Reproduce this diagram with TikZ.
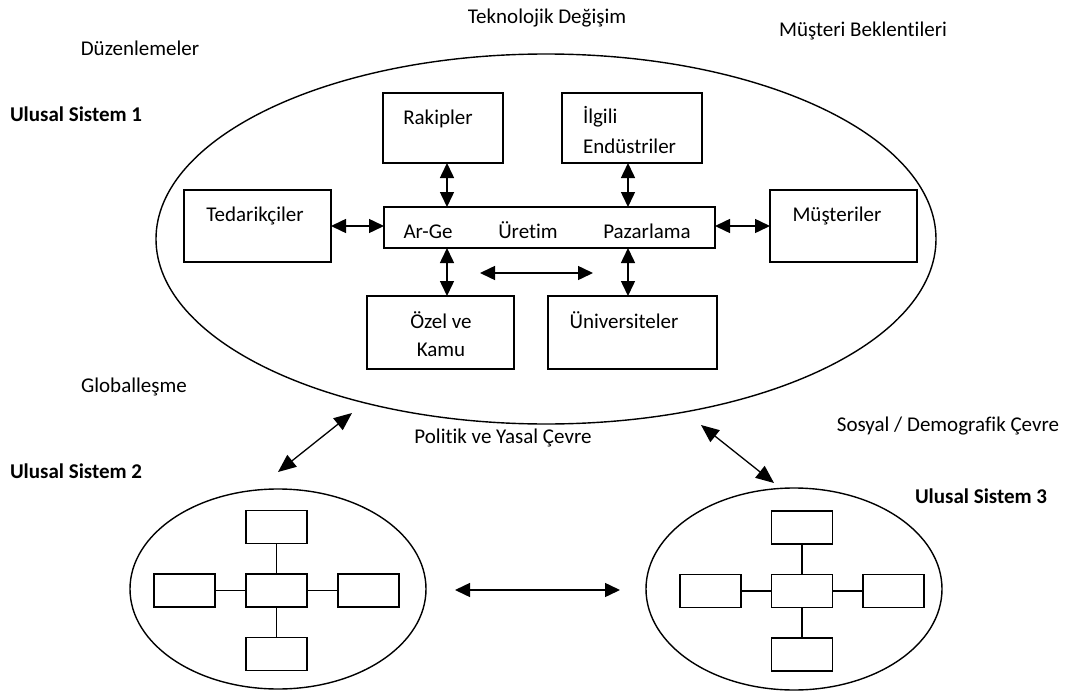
\documentclass[tikz,border=0pt]{standalone}
\usepackage{fontspec}
\setmainfont{Carlito}[RawFeature={-liga;-clig;-calt;-dlig}]
\usetikzlibrary{arrows.meta,shapes.geometric}
\begin{document}
\begin{tikzpicture}[x=1pt,y=-1pt,
  every node/.style={inner sep=0pt,outer sep=0pt},
  lbl/.style={font=\fontsize{21}{25}\selectfont,text height=13.5pt,text depth=0pt,anchor=center},
  ttl/.style={lbl,font=\fontsize{21}{25}\selectfont\bfseries,anchor=west},
  sysellipse/.style={draw,ellipse,line width=1.4pt},
  actor/.style={draw,rectangle,line width=1.6pt},
  mini/.style={draw,rectangle,line width=1.5pt,minimum width=61pt,minimum height=33pt},
  dbl/.style={{Triangle[length=15pt,width=14pt]}-{Triangle[length=15pt,width=14pt]},line width=1.5pt},
  wide/.style={{Triangle[length=18pt,width=15pt]}-{Triangle[length=18pt,width=15pt]},line width=1.3pt},
  link/.style={line width=1.5pt}
]
\useasboundingbox (0,0) rectangle (1085,693);

% national systems
\node[sysellipse,minimum width=780pt,minimum height=370pt] (s1) at (546,239) {};
\node[sysellipse,minimum width=296pt,minimum height=200pt] (s2) at (278,589) {};
\node[sysellipse,minimum width=296pt,minimum height=202pt] (s3) at (794,589) {};

% actors of system 1
\node[actor,minimum width=120pt,minimum height=70pt] (rak) at (443,128) {};
\node[actor,minimum width=140pt,minimum height=70pt] (ilg) at (632,128) {};
\node[actor,minimum width=147pt,minimum height=72pt] (ted) at (257.5,226) {};
\node[actor,minimum width=147pt,minimum height=72pt] (mus) at (843.5,226) {};
\node[actor,minimum width=331pt,minimum height=41pt] (core) at (549.5,227.5) {};
\node[actor,minimum width=147pt,minimum height=73pt] (ozel) at (440.5,332.5) {};
\node[actor,minimum width=169pt,minimum height=73pt] (uni) at (632.5,332.5) {};

% texts inside the boxes
\node[lbl] (t-rak) at (438,118) {Rakipler};
\node[lbl,anchor=west] (t-ilg1) at (583,117) {İlgili};
\node[lbl,anchor=west] (t-ilg2) at (583,147) {Endüstriler};
\node[lbl] (t-ted) at (255,215) {Tedarikçiler};
\node[lbl] (t-mus) at (837,215) {Müşteriler};
\node[lbl] (t-arge) at (428,232) {Ar-Ge};
\node[lbl] (t-uret) at (528,232) {Üretim};
\node[lbl] (t-paz) at (647,232) {Pazarlama};
\node[lbl] (t-oz1) at (441,322) {Özel ve};
\node[lbl] (t-oz2) at (441,350) {Kamu};
\node[lbl] (t-uni) at (624,322) {Üniversiteler};

% environment labels
\node[lbl] (e-tek) at (547,17) {Teknolojik Değişim};
\node[lbl] (e-mus) at (863,30) {Müşteri Beklentileri};
\node[lbl] (e-duz) at (140,49) {Düzenlemeler};
\node[lbl] (e-glo) at (134,386) {Globalleşme};
\node[lbl] (e-pol) at (503,437) {Politik ve Yasal Çevre};
\node[lbl] (e-sos) at (948,425) {Sosyal / Demografik Çevre};
\node[ttl] (n1) at (10,115) {Ulusal Sistem 1};
\node[ttl] (n2) at (10,472) {Ulusal Sistem 2};
\node[ttl] (n3) at (915,497) {Ulusal Sistem 3};

% links inside system 1
\draw[dbl] ([xshift=4pt]rak.south) -- ([xshift=4pt]rak.south |- core.north);
\draw[dbl] ([xshift=-4pt]ilg.south) -- ([xshift=-4pt]ilg.south |- core.north);
\draw[dbl] (ted.east) -- (ted.east -| core.west);
\draw[dbl] (mus.west -| core.east) -- (mus.west);
\draw[dbl] ([xshift=6.5pt]ozel.north |- core.south) -- ([xshift=6.5pt]ozel.north);
\draw[dbl] ([xshift=-4.5pt]uni.north |- core.south) -- ([xshift=-4.5pt]uni.north);
\coordinate (h1) at (480,273);
\coordinate (h2) at (593,273);
\draw[dbl] (h1) -- (h2);

% links between the systems
\coordinate (d1a) at (352,413);
\coordinate (d1b) at (278,472);
\coordinate (d2a) at (701,425);
\coordinate (d2b) at (774,483);
\coordinate (b1) at (455,590);
\coordinate (b2) at (620,590);
\draw[wide] (d1a) -- (d1b);
\draw[wide] (d2a) -- (d2b);
\draw[dbl] (b1) -- (b2);

% miniature actor networks
\foreach \s/\cx/\cy/\dx in {l/276.5/590.5/92, r/802/591/91.5} {
  \node[mini] (\s c) at (\cx,\cy) {};
  \node[mini] (\s n) at (\cx,\cy-63.5) {};
  \node[mini] (\s s) at (\cx,\cy+63.5) {};
  \node[mini] (\s w) at (\cx-\dx,\cy) {};
  \node[mini] (\s e) at (\cx+\dx,\cy) {};
  \draw[link] (\s c) -- (\s n);
  \draw[link] (\s c) -- (\s s);
  \draw[link] (\s c) -- (\s w);
  \draw[link] (\s c) -- (\s e);
}
\end{tikzpicture}
\end{document}
